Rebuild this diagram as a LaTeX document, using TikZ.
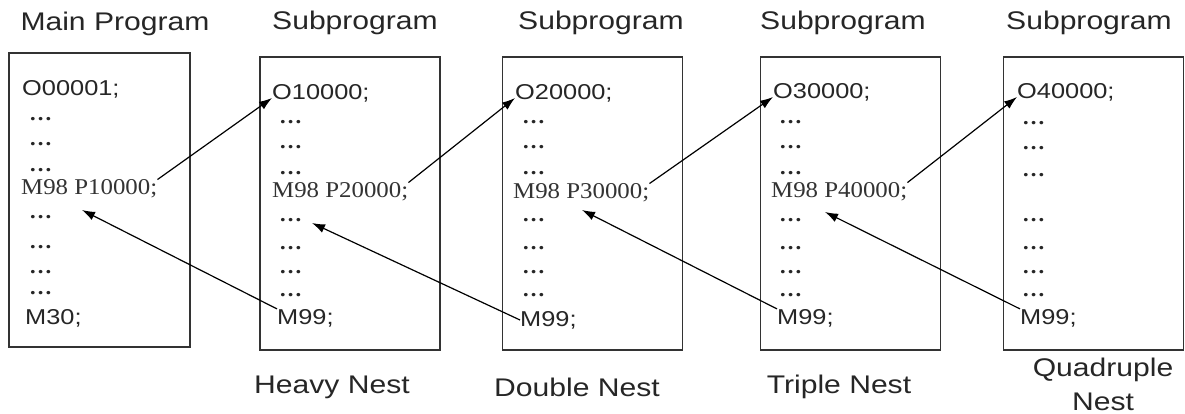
\documentclass[tikz,border=0pt]{standalone}
\usepackage{fontspec}
\setmainfont{Liberation Serif}
\setsansfont{Liberation Sans}
\newfontfamily\progsans{Liberation Sans}[FakeStretch=1.18]
\newfontfamily\progserif{Liberation Serif}[FakeStretch=1.1]
\usepackage{tikz}
\usetikzlibrary{arrows.meta}

\begin{document}
\begin{tikzpicture}[x=1pt, y=-1pt,
    progbox/.style={rectangle, draw=black!80, line width=1.6pt, minimum width=180pt, minimum height=293pt, inner sep=0pt},
    title/.style={font=\progsans\fontsize{25.5}{30}\selectfont, text=black!85},
    nest/.style={font=\progsans\fontsize{25.5}{34}\selectfont, text=black!85, align=center},
    code/.style={anchor=west, inner sep=0pt, font=\progsans\fontsize{21.5}{24}\selectfont, text=black!85},
    call/.style={anchor=west, inner sep=0pt, font=\progserif\fontsize{22.6}{24}\selectfont, text=black!80},
    dots/.style={anchor=west, inner sep=0pt, font=\progserif\bfseries\fontsize{21}{24}\selectfont, text=black!85},
    line/.style={draw, -{Latex[length=13pt,width=9pt]}, line width=1.2pt}]

    \useasboundingbox (0,0) rectangle (1185,414);

    % Program boxes
    \node [progbox, minimum width=181pt, minimum height=294pt] (box1) at (99.5,200) {};
    \node [progbox] (box2) at (350,203.5) {};
    \node [progbox] (box3) at (592.5,203.5) {};
    \node [progbox] (box4) at (850.5,203.5) {};
    \node [progbox] (box5) at (1093.5,203.5) {};

    % Titles
    \node [title] (head1) at (115,24) {Main Program};
    \node [title] (head2) at (355,23) {Subprogram};
    \node [title] (head3) at (601,23) {Subprogram};
    \node [title] (head4) at (843,23) {Subprogram};
    \node [title] (head5) at (1089,23) {Subprogram};

    % Main program
    \node [code] (o1) at (22,89) {O00001;};
    \foreach \y in {119,144,170,217,247,272,293}
        \node [dots] (d1-\y) at (29,\y) {…};
    \node [call] (m1) at (21,189) {M98 P10000;};
    \node [code] (e1) at (25,318) {M30;};

    % Subprogram 1
    \node [code] (o2) at (272,93) {O10000;};
    \foreach \y in {122,147,173,220,248,272,295}
        \node [dots] (d2-\y) at (279,\y) {…};
    \node [call] (m2) at (272,192) {M98 P20000;};
    \node [code] (r2) at (277,318) {M99;};

    % Subprogram 2
    \node [code] (o3) at (515,93) {O20000;};
    \foreach \y in {122,147,173,220,248,272,295}
        \node [dots] (d3-\y) at (522,\y) {…};
    \node [call] (m3) at (513,193) {M98 P30000;};
    \node [code] (r3) at (520,320) {M99;};

    % Subprogram 3
    \node [code] (o4) at (773,92) {O30000;};
    \foreach \y in {122,147,173,220,248,272,295}
        \node [dots] (d4-\y) at (779,\y) {…};
    \node [call] (m4) at (771,192) {M98 P40000;};
    \node [code] (r4) at (777,318) {M99;};

    % Subprogram 4
    \node [code] (o5) at (1017,92) {O40000;};
    \foreach \y in {123,148,175,220,248,272,295}
        \node [dots] (d5-\y) at (1022,\y) {…};
    \node [code] (r5) at (1020,318) {M99;};

    % Nest levels
    \node [nest] (nest1) at (332,387) {Heavy Nest};
    \node [nest] (nest2) at (577,387) {Double Nest};
    \node [nest] (nest3) at (839,387) {Triple Nest};
    \node [nest] (nest4) at (1103,384) {Quadruple\\Nest};

    % Return points
    \coordinate (t1) at (82,210);
    \coordinate (t2) at (312,223);
    \coordinate (t3) at (582,210);
    \coordinate (t4) at (825,212);

    % Calls
    \draw [line] (m1.north east) -- ([yshift=-5pt]o2.west);
    \draw [line] (m2.north east) -- ([yshift=-5pt]o3.west);
    \draw [line] (m3.north east) -- ([yshift=-5pt]o4.west);
    \draw [line] (m4.north east) -- ([yshift=-5pt]o5.west);

    % Returns
    \draw [line] (r2.north west) -- (t1);
    \draw [line] (r3.west) -- (t2);
    \draw [line] (r4.north west) -- (t3);
    \draw [line] (r5.north west) -- (t4);

\end{tikzpicture}
\end{document}
